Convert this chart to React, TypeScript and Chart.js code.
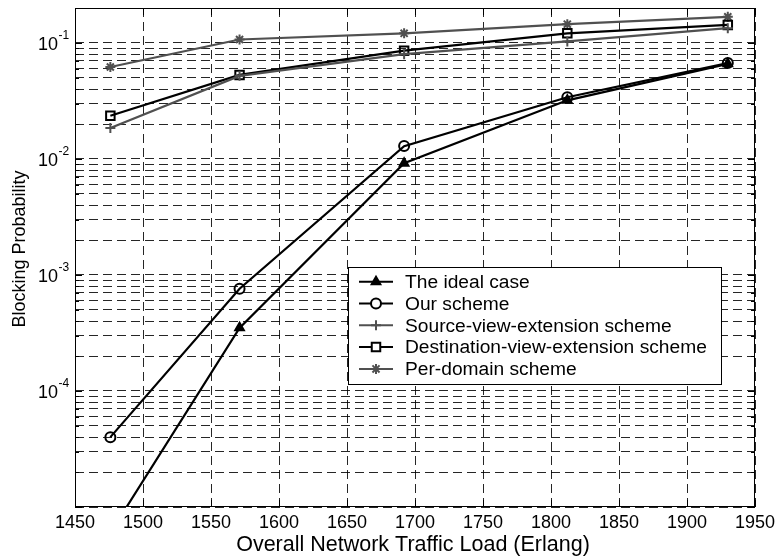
import React, { useEffect, useRef } from 'react';
import { Chart, registerables } from 'chart.js';
import { drawPoint } from 'chart.js/helpers';

Chart.register(...registerables);

const xLoads = [1476, 1571, 1692, 1812, 1930];
const idealCase = [6e-6, 3.5e-4, 0.0092, 0.032, 0.066];
const ourScheme = [4.0e-5, 7.6e-4, 0.0129, 0.034, 0.067];
const sourceView = [0.0185, 0.052, 0.08, 0.103, 0.134];
const destinationView = [0.0236, 0.053, 0.0857, 0.121, 0.143];
const perDomain = [0.062, 0.107, 0.121, 0.145, 0.168];

const seriesNames = [
  'The ideal case',
  'Our scheme',
  'Source-view-extension scheme',
  'Destination-view-extension scheme',
  'Per-domain scheme',
];

const xTickLabels = ['1450', '1500', '1550', '1600', '1650', '1700', '1750', '1800', '1850', '1900', '1950'];
const yDecadeExponents = [-5, -4, -3, -2, -1];
const yLabelExponents = [-1, -2, -3, -4];
const xTitle = 'Overall Network Traffic Load (Erlang)';
const yTitle = 'Blocking Probability';

const FONT = 'Arial, "Liberation Sans", Helvetica, sans-serif';
const BLACK = '#000000';
const GRAY = '#505050';

const styles = [
  { color: BLACK, pointStyle: 'triangle', radius: 5, fill: true },
  { color: BLACK, pointStyle: 'circle', radius: 5, fill: false },
  { color: GRAY, pointStyle: 'cross', radius: 5, fill: false },
  { color: BLACK, pointStyle: 'rect', radius: 6, fill: false },
  { color: GRAY, pointStyle: 'star', radius: 5, fill: false },
];

function buildYTicks(): number[] {
  const vals: number[] = [];
  for (const k of yDecadeExponents) {
    for (let m = 1; m <= 9; m++) {
      const v = m * Math.pow(10, k);
      if (v <= 0.2 + 1e-12) vals.push(v);
    }
  }
  return vals;
}

const decorPlugin = {
  id: 'matlabDecor',
  afterDraw(chart: any) {
    const { ctx, chartArea, scales } = chart;
    const { left, right, top, bottom } = chartArea;
    const xs = scales.x;
    const ys = scales.y;
    ctx.save();
    // box
    ctx.strokeStyle = BLACK;
    ctx.lineWidth = 1;
    ctx.setLineDash([]);
    ctx.strokeRect(left + 0.5, top + 0.5, right - left - 1, bottom - top - 1);
    // x ticks
    ctx.beginPath();
    for (const t of xTickLabels) {
      const px = Math.round(xs.getPixelForValue(Number(t))) + 0.5;
      ctx.moveTo(px, bottom);
      ctx.lineTo(px, bottom - 7);
      ctx.moveTo(px, top);
      ctx.lineTo(px, top + 7);
    }
    // y ticks
    for (const v of buildYTicks()) {
      const py = Math.round(ys.getPixelForValue(v)) + 0.5;
      const lg = Math.log10(v);
      const major = Math.abs(lg - Math.round(lg)) < 1e-9;
      const len = major ? 7 : 4;
      ctx.moveTo(left, py);
      ctx.lineTo(left + len, py);
      ctx.moveTo(right, py);
      ctx.lineTo(right - len, py);
    }
    ctx.stroke();

    ctx.fillStyle = BLACK;
    // x tick labels
    ctx.font = `18px ${FONT}`;
    ctx.textAlign = 'center';
    ctx.textBaseline = 'middle';
    for (const t of xTickLabels) {
      ctx.fillText(t, xs.getPixelForValue(Number(t)), bottom + 16);
    }
    // y tick labels
    for (const k of yLabelExponents) {
      const py = ys.getPixelForValue(Math.pow(10, k));
      ctx.font = `18px ${FONT}`;
      ctx.textAlign = 'right';
      ctx.textBaseline = 'middle';
      ctx.fillText('10', 58, py + 2);
      ctx.font = `12px ${FONT}`;
      ctx.textAlign = 'left';
      ctx.fillText(String(k), 58.5, py - 7);
    }
    // axis titles
    ctx.font = `21.5px ${FONT}`;
    ctx.textAlign = 'center';
    ctx.textBaseline = 'middle';
    ctx.fillText(xTitle, (left + right) / 2 - 2, bottom + 38);
    ctx.save();
    ctx.translate(20, 249);
    ctx.rotate(-Math.PI / 2);
    ctx.font = `18px ${FONT}`;
    ctx.fillText(yTitle, 0, 0);
    ctx.restore();

    // legend
    const bx = 348.5, by = 267.5, bw = 373, bh = 117;
    ctx.fillStyle = '#ffffff';
    ctx.fillRect(bx, by, bw, bh);
    ctx.strokeStyle = BLACK;
    ctx.lineWidth = 1;
    ctx.strokeRect(bx, by, bw, bh);
    seriesNames.forEach((name, i) => {
      const st = styles[i];
      const cy = 281.7 + i * 21.8;
      ctx.strokeStyle = st.color;
      ctx.lineWidth = 2;
      ctx.beginPath();
      ctx.moveTo(359, cy);
      ctx.lineTo(393, cy);
      ctx.stroke();
      ctx.fillStyle = st.fill ? st.color : '#ffffff';
      ctx.strokeStyle = st.color;
      ctx.lineWidth = 2;
      drawPoint(ctx, { pointStyle: st.pointStyle, radius: st.radius, rotation: 0, borderWidth: 2 } as any, 376, cy);
      ctx.fillStyle = BLACK;
      ctx.font = `19.2px ${FONT}`;
      ctx.textAlign = 'left';
      ctx.textBaseline = 'middle';
      ctx.fillText(name, 405, cy + 1);
    });
    ctx.restore();
  },
};

export default function App() {
  const canvasRef = useRef<HTMLCanvasElement | null>(null);

  useEffect(() => {
    const canvas = canvasRef.current;
    if (!canvas) return;
    const seriesValues = [idealCase, ourScheme, sourceView, destinationView, perDomain];
    const datasets = seriesValues.map((vals, i) => {
      const st = styles[i];
      return {
        label: seriesNames[i],
        data: xLoads.map((x, j) => ({ x, y: vals[j] })),
        borderColor: st.color,
        backgroundColor: st.color,
        borderWidth: 2.2,
        pointStyle: st.pointStyle,
        pointRadius: st.radius,
        pointBorderWidth: 2,
        pointBorderColor: st.color,
        pointBackgroundColor: st.fill ? st.color : 'rgba(255,255,255,0)',
        tension: 0,
        fill: false,
      };
    });
    const chart = new Chart(canvas, {
      type: 'line',
      data: { datasets } as any,
      options: {
        animation: false,
        responsive: true,
        maintainAspectRatio: false,
        layout: { padding: { top: 8, right: 25, left: 0, bottom: 0 } },
        plugins: { legend: { display: false }, tooltip: { enabled: false }, title: { display: false } },
        scales: {
          x: {
            type: 'linear',
            min: 1450,
            max: 1950,
            afterBuildTicks: (s: any) => {
              s.ticks = xTickLabels.map((t) => ({ value: Number(t) }));
            },
            afterFit: (s: any) => {
              s.height = 51;
            },
            ticks: { display: false },
            grid: { color: 'rgba(0,0,0,0.85)', lineWidth: 1, drawTicks: false },
            border: { display: false, dash: [9, 5] },
          },
          y: {
            type: 'logarithmic',
            min: 1e-5,
            max: 0.2,
            afterBuildTicks: (s: any) => {
              s.ticks = buildYTicks().map((v) => ({ value: v }));
            },
            afterFit: (s: any) => {
              s.width = 75;
            },
            ticks: { display: false },
            grid: { color: 'rgba(0,0,0,0.85)', lineWidth: 1, drawTicks: false },
            border: { display: false, dash: [9, 5] },
          },
        },
      } as any,
      plugins: [decorPlugin],
    });
    return () => chart.destroy();
  }, []);

  return (
    <div style={{ position: 'absolute', left: 0, top: 0, width: 780, height: 558, background: '#fff' }}>
      <canvas ref={canvasRef} />
    </div>
  );
}
